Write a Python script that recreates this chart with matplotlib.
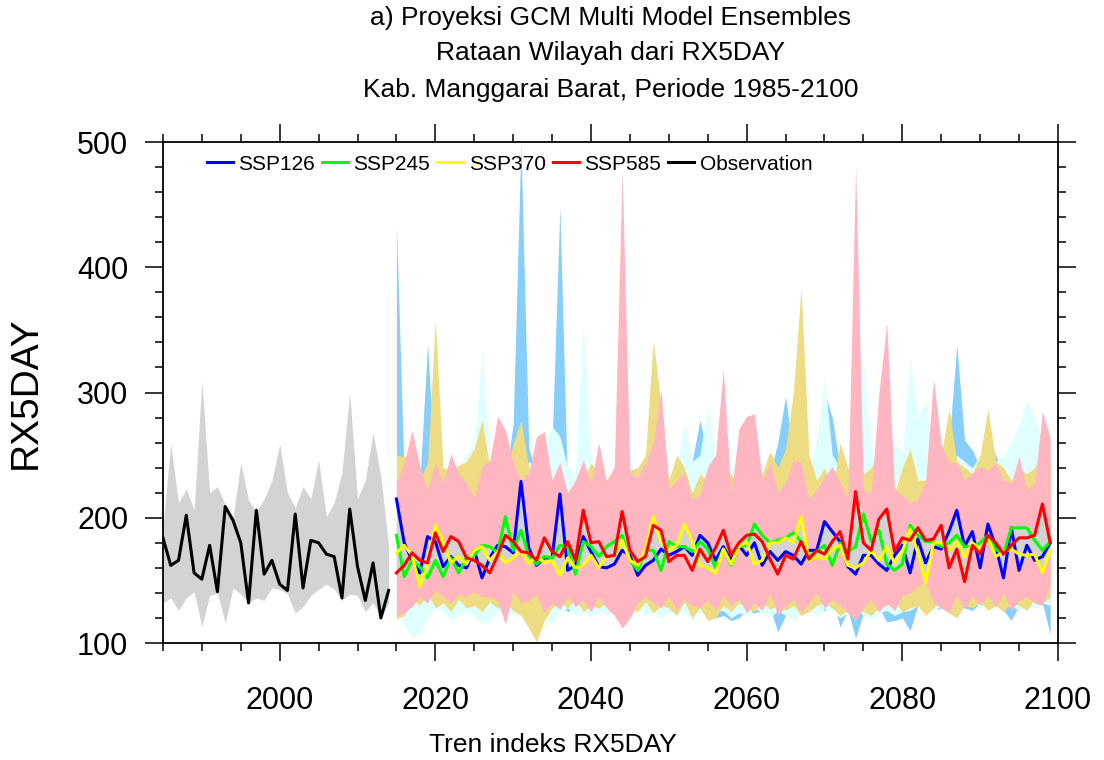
import matplotlib
matplotlib.use("Agg")
import matplotlib.pyplot as plt
import numpy as np
from matplotlib.ticker import MultipleLocator

plt.rcParams["font.family"] = ["Liberation Sans", "DejaVu Sans"]

# ── Observation 1985-2014 ──
obs_years = np.arange(1985, 2015)
obs_mean = [184, 162, 166, 202, 156, 151, 178, 141, 209, 198,
            180, 132, 206, 155, 166, 147, 142, 203, 144, 182,
            180, 171, 169, 136, 207, 161, 134, 164, 120, 142]
obs_hi = [193, 259, 212, 223, 206, 309, 220, 225, 210, 200,
          244, 214, 205, 215, 230, 259, 220, 208, 225, 215,
          246, 201, 212, 236, 300, 215, 230, 268, 233, 177]
obs_lo = [132, 136, 126, 136, 141, 113, 138, 140, 116, 144,
          139, 132, 136, 134, 144, 143, 139, 124, 129, 138,
          143, 147, 143, 134, 139, 138, 125, 132, 120, 132]

# ── Multi model ensemble projections 2015-2099 ──
proj_years = np.arange(2015, 2100)

ssp126 = [215, 180, 166, 156, 185, 181, 161, 169, 162, 160,
          174, 152, 168, 178, 177, 172, 229, 176, 162, 168,
          168, 219, 158, 162, 185, 173, 161, 160, 163, 174,
          170, 154, 162, 166, 175, 170, 173, 177, 170, 186,
          180, 166, 177, 166, 178, 170, 180, 162, 173, 166,
          173, 170, 163, 174, 174, 197, 189, 181, 161, 155,
          170, 170, 163, 158, 170, 178, 156, 183, 164, 177,
          175, 189, 206, 177, 189, 160, 195, 177, 152, 192,
          158, 178, 166, 169, 180]
ssp245 = [186, 153, 166, 161, 152, 166, 153, 168, 156, 168,
          170, 178, 177, 172, 201, 174, 190, 170, 163, 169,
          168, 178, 177, 155, 181, 177, 169, 177, 181, 186,
          166, 158, 174, 174, 158, 181, 177, 177, 173, 181,
          175, 160, 175, 162, 177, 178, 195, 186, 180, 182,
          184, 188, 181, 169, 173, 178, 162, 180, 173, 177,
          203, 181, 190, 163, 158, 163, 194, 186, 181, 181,
          177, 180, 186, 177, 177, 180, 186, 175, 171, 192,
          192, 192, 182, 174, 181]
ssp370 = [172, 178, 170, 145, 163, 194, 180, 164, 169, 163,
          174, 177, 166, 173, 164, 168, 174, 163, 170, 164,
          166, 154, 168, 160, 162, 170, 160, 169, 170, 182,
          166, 162, 175, 201, 180, 174, 178, 195, 181, 162,
          160, 156, 175, 163, 177, 181, 163, 166, 180, 180,
          184, 180, 201, 166, 169, 167, 175, 178, 162, 160,
          164, 174, 166, 177, 164, 173, 191, 172, 148, 180,
          180, 174, 181, 169, 180, 175, 184, 169, 173, 175,
          171, 170, 171, 156, 174]
ssp585 = [156, 162, 172, 166, 164, 188, 173, 185, 181, 168,
          166, 162, 156, 170, 186, 181, 173, 172, 166, 184,
          173, 169, 181, 166, 206, 180, 181, 169, 170, 205,
          174, 165, 169, 194, 190, 165, 170, 170, 158, 175,
          165, 176, 190, 170, 180, 186, 187, 181, 167, 155,
          170, 167, 181, 167, 174, 171, 181, 189, 167, 221,
          180, 174, 199, 207, 173, 184, 182, 192, 182, 183,
          194, 160, 175, 149, 178, 171, 186, 180, 171, 178,
          184, 184, 186, 211, 180]

# model spread (min / max) per scenario
ssp126_hi = [435, 230, 225, 228, 339, 235, 215, 225, 220, 215,
             220, 245, 235, 225, 230, 275, 499, 257, 230, 240,
             260, 448, 220, 225, 230, 215, 225, 220, 230, 235,
             225, 230, 240, 235, 230, 225, 230, 240, 245, 278,
             250, 230, 235, 240, 230, 225, 240, 230, 235, 260,
             297, 250, 235, 230, 260, 300, 280, 240, 235, 240,
             230, 235, 240, 230, 240, 240, 260, 240, 235, 245,
             240, 260, 338, 262, 254, 240, 265, 250, 235, 240,
             230, 240, 235, 230, 250]
ssp126_lo = [121, 128, 135, 130, 132, 128, 135, 130, 128, 133,
             128, 125, 130, 128, 132, 135, 130, 128, 125, 130,
             128, 132, 125, 128, 130, 127, 130, 126, 128, 132,
             130, 128, 125, 130, 128, 125, 130, 128, 125, 127,
             125, 120, 122, 118, 120, 126, 124, 126, 128, 109,
             122, 123, 125, 126, 128, 126, 136, 113, 126, 104,
             124, 125, 128, 117, 118, 120, 110, 130, 128, 126,
             128, 125, 131, 128, 126, 132, 128, 130, 126, 118,
             130, 132, 128, 132, 107]
ssp245_hi = [230, 225, 220, 230, 240, 225, 235, 230, 240, 250,
             260, 335, 250, 235, 240, 230, 235, 245, 240, 260,
             273, 265, 240, 235, 355, 240, 235, 230, 240, 235,
             240, 235, 230, 240, 245, 235, 240, 275, 245, 250,
             291, 240, 235, 240, 245, 230, 235, 240, 230, 240,
             245, 240, 235, 240, 260, 313, 250, 240, 235, 240,
             326, 250, 240, 245, 260, 250, 326, 280, 294, 240,
             245, 240, 250, 245, 240, 250, 240, 245, 250, 260,
             275, 294, 280, 260, 263]
ssp245_lo = [125, 115, 104, 108, 120, 128, 125, 118, 122, 125,
             120, 115, 118, 125, 128, 122, 125, 128, 130, 118,
             116, 125, 128, 122, 125, 120, 126, 122, 125, 122,
             125, 128, 122, 125, 120, 126, 122, 125, 118, 124,
             122, 125, 126, 120, 124, 122, 128, 124, 120, 126,
             122, 118, 124, 126, 122, 128, 126, 120, 124, 128,
             122, 118, 124, 126, 122, 125, 126, 130, 128, 125,
             130, 128, 132, 130, 134, 128, 132, 130, 128, 130,
             126, 130, 128, 132, 130]
ssp370_hi = [250, 249, 251, 230, 244, 358, 240, 238, 242, 245,
             255, 278, 240, 230, 235, 259, 278, 240, 220, 215,
             230, 225, 215, 230, 230, 244, 235, 230, 240, 230,
             238, 240, 250, 342, 290, 230, 250, 240, 220, 235,
             230, 240, 230, 235, 225, 240, 245, 235, 253, 240,
             255, 300, 384, 250, 230, 240, 220, 260, 240, 230,
             235, 240, 250, 230, 220, 240, 255, 230, 230, 245,
             250, 287, 245, 240, 235, 250, 287, 245, 240, 230,
             240, 235, 240, 250, 245]
ssp370_lo = [119, 122, 135, 130, 140, 128, 132, 125, 135, 128,
             130, 125, 133, 128, 132, 126, 122, 112, 101, 118,
             128, 133, 128, 135, 125, 130, 128, 132, 125, 120,
             128, 125, 133, 124, 130, 128, 122, 133, 120, 128,
             118, 120, 130, 125, 132, 128, 125, 133, 127, 130,
             126, 130, 122, 125, 130, 132, 128, 122, 126, 130,
             125, 122, 128, 130, 133, 125, 128, 130, 122, 128,
             135, 124, 120, 130, 128, 133, 126, 130, 125, 132,
             130, 126, 135, 132, 136]
ssp585_hi = [228, 244, 270, 241, 222, 244, 228, 251, 235, 228,
             216, 241, 246, 281, 270, 244, 230, 236, 265, 269,
             230, 244, 220, 230, 246, 228, 260, 228, 241, 478,
             236, 232, 244, 260, 302, 222, 230, 236, 215, 218,
             241, 250, 319, 218, 271, 281, 283, 230, 244, 220,
             228, 246, 244, 215, 222, 233, 241, 228, 215, 481,
             222, 220, 300, 356, 222, 218, 212, 215, 230, 311,
             259, 244, 244, 230, 236, 241, 238, 244, 230, 228,
             249, 222, 228, 285, 264]
ssp585_lo = [122, 124, 129, 137, 132, 142, 137, 132, 139, 137,
             141, 137, 137, 134, 115, 142, 132, 134, 139, 124,
             132, 127, 137, 129, 134, 125, 137, 128, 122, 112,
             120, 132, 137, 132, 128, 138, 126, 135, 130, 128,
             134, 126, 138, 130, 135, 124, 132, 126, 140, 122,
             130, 135, 124, 132, 140, 128, 135, 130, 124, 118,
             128, 135, 125, 132, 126, 138, 140, 146, 148, 132,
             128, 124, 138, 128, 137, 130, 138, 129, 140, 126,
             134, 137, 132, 130, 146]

fig = plt.figure(figsize=(11.04, 7.6), dpi=100)
ax = fig.add_axes([0.1476, 0.1539, 0.8107, 0.6592])

# observation spread
ax.fill_between(obs_years, obs_lo, obs_hi, color="#d3d3d3", lw=0, zorder=1)

# scenario spreads, drawn back to front
ax.fill_between(proj_years, ssp126_lo, ssp126_hi, color="#87cefa", lw=0, zorder=2)
ax.fill_between(proj_years, ssp245_lo, ssp245_hi, color="#e0ffff", lw=0, zorder=3)
ax.fill_between(proj_years, ssp370_lo, ssp370_hi, color="#eedc82", lw=0, zorder=4)
ax.fill_between(proj_years, ssp585_lo, ssp585_hi, color="#ffb6c1", lw=0, zorder=5)

# envelope of the four ensemble means
means = np.array([ssp126, ssp245, ssp370, ssp585])
ax.fill_between(proj_years, means.min(axis=0), means.max(axis=0),
                color="#d3d3d3", lw=0, zorder=6)

ax.plot(proj_years, ssp126, color="#0000ff", lw=2.2, label="SSP126", zorder=7)
ax.plot(proj_years, ssp245, color="#00ff00", lw=2.2, label="SSP245", zorder=7)
ax.plot(proj_years, ssp370, color="#ffff00", lw=2.2, label="SSP370", zorder=7)
ax.plot(proj_years, ssp585, color="#ff0000", lw=2.2, label="SSP585", zorder=7)
ax.plot(obs_years, obs_mean, color="black", lw=2.2, label="Observation", zorder=7)

ax.set_xlim(1985, 2100)
ax.set_ylim(100, 500)
ax.xaxis.set_major_locator(MultipleLocator(20))
ax.xaxis.set_minor_locator(MultipleLocator(5))
ax.yaxis.set_major_locator(MultipleLocator(100))
ax.yaxis.set_minor_locator(MultipleLocator(20))

for side in ax.spines.values():
    side.set_linewidth(1.3)
ax.tick_params(which="both", direction="out", top=True, right=True,
               width=1.1, labelsize=22)
ax.tick_params(which="major", length=13, pad=12)
ax.tick_params(axis="x", which="major", pad=18)
ax.tick_params(which="minor", length=6)

ax.set_ylabel("RX5DAY", fontsize=28, labelpad=24)
fig.text(553 / 1104, 1 - 745 / 760, "Tren indeks RX5DAY",
         ha="center", va="center", fontsize=19)

fig.text(0.553, 1 - 18 / 760, "a) Proyeksi GCM Multi Model Ensembles",
         ha="center", va="center", fontsize=19)
fig.text(0.553, 1 - 53 / 760, "Rataan Wilayah dari RX5DAY",
         ha="center", va="center", fontsize=19)
fig.text(0.553, 1 - 90 / 760, "Kab. Manggarai Barat, Periode 1985-2100",
         ha="center", va="center", fontsize=19)

ax.legend(loc="upper left", bbox_to_anchor=(0.035, 1.0), ncol=5,
          frameon=False, fontsize=15, handlelength=1.25,
          handletextpad=0.25, columnspacing=0.35, borderaxespad=0.2)

fig.savefig("out.png", dpi=100)
